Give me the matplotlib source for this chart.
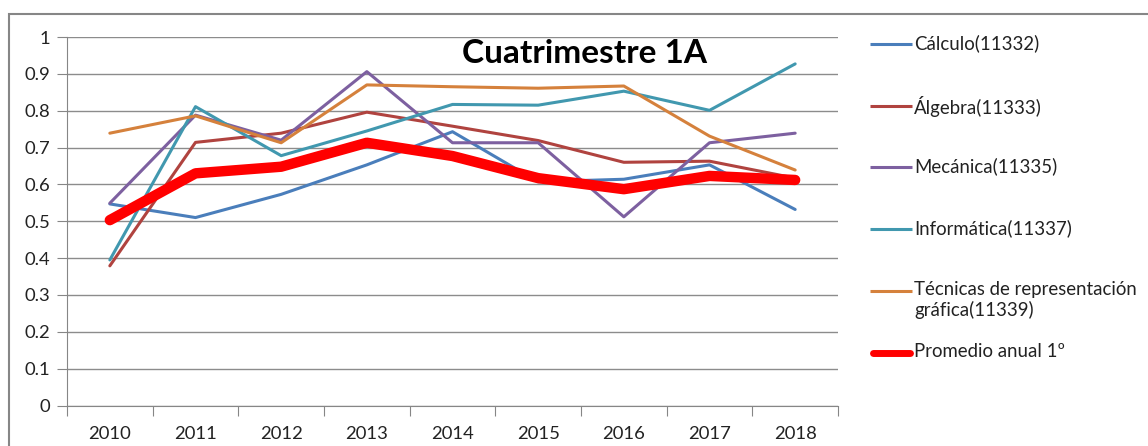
import numpy as np
import matplotlib.pyplot as plt
from matplotlib.lines import Line2D
from matplotlib.patches import Rectangle

plt.rcParams['font.family'] = ['Lato', 'DejaVu Sans']

years = ['2010', '2011', '2012', '2013', '2014', '2015', '2016', '2017', '2018']
calculo = [0.547, 0.510, 0.573, 0.653, 0.743, 0.607, 0.614, 0.653, 0.532]
algebra = [0.379, 0.714, 0.739, 0.796, 0.758, 0.719, 0.660, 0.663, 0.617]
mecanica = [0.549, 0.788, 0.720, 0.906, 0.713, 0.713, 0.512, 0.713, 0.739]
informatica = [0.395, 0.811, 0.678, 0.745, 0.817, 0.815, 0.853, 0.801, 0.927]
tecnicas = [0.739, 0.786, 0.713, 0.870, 0.865, 0.861, 0.867, 0.731, 0.639]
promedio = [0.503, 0.630, 0.648, 0.713, 0.677, 0.617, 0.587, 0.623, 0.612]

labels = ['Cálculo(11332)', 'Álgebra(11333)', 'Mecánica(11335)', 'Informática(11337)',
          'Técnicas de representación\ngráfica(11339)', 'Promedio anual 1º']
series = [calculo, algebra, mecanica, informatica, tecnicas, promedio]
colors = ['#4A7EBB', '#B0433F', '#7D60A0', '#4198AF', '#D5813C', '#FF0000']
widths = [2.2, 2.2, 2.2, 2.2, 2.2, 7.5]

fig = plt.figure(figsize=(11.48, 4.46), dpi=100)
W, H = 1148, 446

# marco exterior
fig.patches.append(Rectangle((8.5 / W, -0.1), 1.2, 1 - 14 / H + 0.1, transform=fig.transFigure,
                             fill=False, edgecolor='#868686', linewidth=1.5))

ax = fig.add_axes([67 / W, 1 - 405.5 / H, (838 - 67) / W, (405.5 - 37) / H])
x = np.arange(len(years))
for s, c, lw in zip(series, colors, widths):
    ax.plot(x, s, color=c, linewidth=lw, solid_capstyle='round', solid_joinstyle='round')

ax.set_xlim(-0.5, len(years) - 0.5)
ax.set_ylim(0, 1)
ax.set_yticks(np.arange(0, 1.01, 0.1))
ax.set_yticklabels(['0', '0.1', '0.2', '0.3', '0.4', '0.5', '0.6', '0.7', '0.8', '0.9', '1'])
ax.yaxis.grid(True, color='#8C8C8C', linewidth=1)
ax.set_axisbelow(True)

ax.set_xticks(np.arange(-0.5, len(years), 1))
ax.set_xticklabels([])
ax.set_xticks(x, minor=True)
ax.set_xticklabels(years, minor=True)
ax.tick_params(axis='x', which='major', length=7, color='#868686', direction='out')
ax.tick_params(axis='x', which='minor', length=0, pad=15, labelsize=13.3, labelcolor='#222222')
ax.tick_params(axis='y', length=7, color='#868686', direction='out', pad=5, labelsize=13.3,
               labelcolor='#222222')

for side in ['top', 'right']:
    ax.spines[side].set_visible(False)
for side in ['left', 'bottom']:
    ax.spines[side].set_color('#868686')

fig.text(585 / W, 1 - 63 / H, 'Cuatrimestre 1A', ha='center', va='baseline',
         fontsize=24, fontweight='bold')

# leyenda
ys = [44, 106, 167, 229, 291, 353]
for lab, c, lw, yy in zip(labels, colors, widths, ys):
    lw_leg = 5 if lw > 3 else lw
    x0 = 873 if lw > 3 else 870
    x1 = 910 if lw > 3 else 912
    fig.add_artist(Line2D([x0 / W, x1 / W], [1 - yy / H] * 2, color=c,
                          linewidth=lw_leg, solid_capstyle='round' if lw > 3 else 'butt'))
    fig.text(914 / W, 1 - (yy - 10) / H, lab, ha='left', va='top', fontsize=13.4,
             linespacing=1.2, color='#222222')

fig.savefig('out.png', dpi=100)
